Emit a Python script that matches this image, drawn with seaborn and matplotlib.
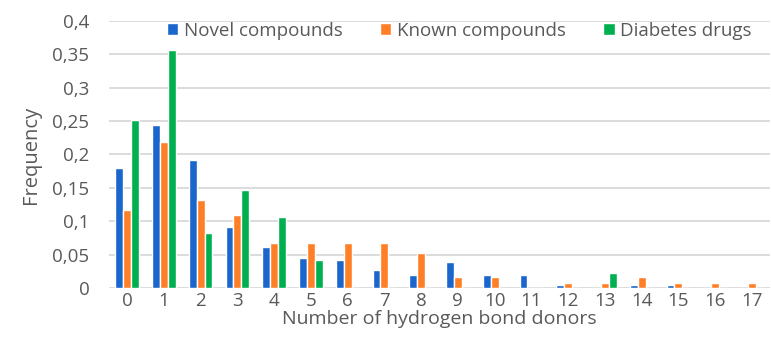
import matplotlib
matplotlib.use("Agg")
import matplotlib.pyplot as plt
import seaborn as sns
import pandas as pd
from matplotlib.ticker import FixedLocator, FuncFormatter

categories = [str(i) for i in range(18)]
novel = [0.180, 0.244, 0.192, 0.091, 0.061, 0.045, 0.042, 0.027, 0.020, 0.039,
         0.020, 0.020, 0.004, 0.0, 0.004, 0.004, 0.0, 0.0]
known = [0.117, 0.218, 0.132, 0.109, 0.068, 0.068, 0.068, 0.068, 0.053, 0.016,
         0.016, 0.0, 0.008, 0.008, 0.016, 0.008, 0.008, 0.008]
diabetes = [0.252, 0.357, 0.083, 0.147, 0.106, 0.042, 0.0, 0.0, 0.0, 0.0,
            0.0, 0.0, 0.0, 0.023, 0.0, 0.0, 0.0, 0.0]
series_names = ["Novel compounds", "Known compounds", "Diabetes drugs"]
colors = ["#1A66CC", "#FF7F27", "#00B050"]
yticks = [0, 0.05, 0.1, 0.15, 0.2, 0.25, 0.3, 0.35, 0.4]

rows = []
for name, vals in zip(series_names, [novel, known, diabetes]):
    for c, v in zip(categories, vals):
        rows.append({"cat": c, "series": name, "value": v})
df = pd.DataFrame(rows)

sns.set_style("white")
plt.rcParams["font.family"] = ["Open Sans", "DejaVu Sans"]
text_color = "#595959"

fig = plt.figure(figsize=(7.71, 3.44), dpi=100)
ax = fig.add_axes([0.141, 0.163, 0.858, 0.776])

sns.barplot(data=df, x="cat", y="value", hue="series", hue_order=series_names,
            order=categories, palette=colors, width=0.64, gap=0, ax=ax,
            saturation=1, legend=True)

ax.set_ylim(0, 0.4)
ax.set_xlim(-0.5, 17.5)
ax.yaxis.set_major_locator(FixedLocator(yticks))
ax.yaxis.set_major_formatter(FuncFormatter(lambda v, p: ("%g" % round(v, 2)).replace(".", ",")))
ax.grid(axis="y", color="#D9D9D9", linewidth=1.3)
ax.set_axisbelow(True)
for s in ax.spines.values():
    s.set_visible(False)
ax.tick_params(axis="both", length=0, labelsize=13.5, colors=text_color)
ax.tick_params(axis="y", pad=14)
ax.tick_params(axis="x", pad=3)

ax.set_xlabel("Number of hydrogen bond donors", fontsize=14, color=text_color, labelpad=0)
ax.set_ylabel("Frequency", fontsize=14.5, color=text_color, labelpad=8)

ax.legend(loc="upper center", bbox_to_anchor=(0.53, 1.025), ncol=3, frameon=False,
          fontsize=13.5, labelcolor=text_color, handlelength=0.6, handleheight=0.6,
          handletextpad=0.3, columnspacing=2.0, borderaxespad=0)

fig.savefig("out.png", dpi=100)
